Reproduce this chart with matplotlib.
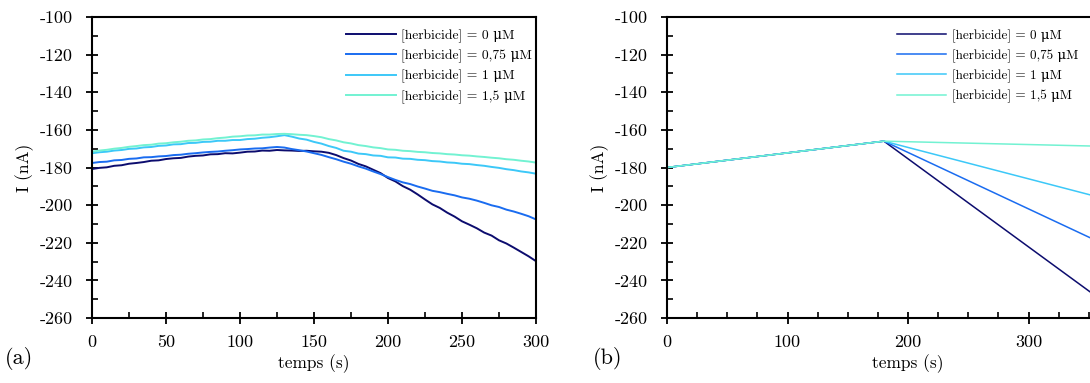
import matplotlib
matplotlib.use('Agg')
import matplotlib.pyplot as plt
from matplotlib.ticker import MultipleLocator, FixedLocator

plt.rcParams['font.family'] = ['cmr10', 'DejaVu Serif']
plt.rcParams['axes.unicode_minus'] = False
plt.rcParams['axes.formatter.use_mathtext'] = False

labels = ['[herbicide] = 0 \u03bcM', '[herbicide] = 0,75 \u03bcM',
          '[herbicide] = 1 \u03bcM', '[herbicide] = 1,5 \u03bcM']
colors = ['#0c0c6e', '#1a6cf0', '#3cc8f8', '#72f2d2']

# (a) mesures, un point toutes les 5 s
t_a = list(range(0, 301, 5))
i_0 = [-180.8, -180.2, -179.9, -179.1, -178.8, -178.0, -177.6, -177.1, -176.4, -176.2,
       -175.5, -175.1, -174.9, -174.2, -173.8, -173.6, -173.0, -172.9, -172.4, -172.5,
       -172.1, -171.6, -171.5, -171.0, -171.1, -170.7, -170.9, -171.0, -171.2, -171.1,
       -171.4, -171.6, -172.2, -173.4, -175.0, -176.3, -178.1, -179.4, -181.2, -183.0,
       -185.6, -187.4, -189.9, -191.8, -194.3, -197.0, -199.6, -201.5, -204.0, -206.1,
       -208.6, -210.4, -212.3, -214.6, -216.2, -218.7, -220.4, -222.6, -224.9, -227.2,
       -229.8]
i_075 = [-177.6, -177.1, -176.9, -176.2, -176.0, -175.4, -175.2, -174.6, -174.5, -174.1,
         -173.9, -173.4, -173.2, -172.7, -172.4, -172.0, -171.7, -171.5, -171.1, -170.8,
         -170.4, -170.2, -169.9, -169.8, -169.4, -169.1, -169.4, -170.2, -170.8, -171.5,
         -172.4, -173.3, -174.5, -175.6, -176.9, -178.0, -179.4, -180.6, -182.1, -183.5,
         -185.1, -186.6, -187.9, -188.8, -190.1, -191.2, -192.4, -193.1, -194.0, -194.8,
         -195.9, -196.6, -197.6, -198.8, -200.1, -201.0, -202.4, -203.4, -204.6, -205.9,
         -207.6]
i_1 = [-172.4, -171.9, -171.6, -171.0, -170.7, -170.1, -169.9, -169.3, -169.1, -168.5,
       -168.3, -167.7, -167.6, -167.0, -166.9, -166.4, -166.3, -165.8, -165.8, -165.4,
       -165.4, -164.9, -164.7, -164.2, -163.9, -163.4, -162.8, -163.6, -164.6, -165.2,
       -166.4, -167.3, -168.6, -169.6, -171.1, -171.6, -172.6, -172.9, -173.6, -173.8,
       -174.6, -174.7, -175.3, -175.4, -175.9, -176.1, -176.6, -176.8, -177.3, -177.5,
       -178.0, -178.2, -178.7, -179.1, -179.7, -180.2, -180.9, -181.4, -182.1, -182.6,
       -183.3]
i_15 = [-171.6, -171.0, -170.6, -170.0, -169.6, -169.0, -168.6, -168.1, -167.9, -167.3,
        -167.1, -166.6, -166.3, -165.8, -165.6, -165.1, -164.9, -164.4, -164.1, -163.6,
        -163.4, -163.0, -162.9, -162.5, -162.5, -162.2, -162.1, -162.3, -162.6, -162.8,
        -163.3, -163.9, -164.9, -165.6, -166.6, -167.2, -168.1, -168.6, -169.3, -169.7,
        -170.4, -170.6, -171.1, -171.3, -171.7, -171.9, -172.3, -172.5, -172.9, -173.1,
        -173.5, -173.7, -174.1, -174.4, -174.8, -175.1, -175.6, -175.9, -176.4, -176.8,
        -177.4]

# (b) modele
t_b = [0, 180, 400]
m_0 = [-180, -166, -269]
m_075 = [-180, -166, -232]
m_1 = [-180, -166, -202.7]
m_15 = [-180, -166, -169.3]

W, H = 1090, 383
fig = plt.figure(figsize=(W / 100, H / 100), dpi=100)
ax1 = fig.add_axes([92 / W, 1 - 318 / H, 444 / W, 301 / H])
ax2 = fig.add_axes([667 / W, 1 - 318 / H, 482 / W, 301 / H])


def style(ax, xticks, xmax):
    ax.set_ylim(-260, -100)
    ax.set_xlim(0, xmax)
    ax.xaxis.set_major_locator(FixedLocator(xticks))
    ax.xaxis.set_minor_locator(MultipleLocator(25))
    ax.yaxis.set_major_locator(MultipleLocator(20))
    ax.yaxis.set_minor_locator(MultipleLocator(10))
    ax.tick_params(which='major', direction='inout', length=8, width=1.3,
                   labelsize=13)
    ax.tick_params(which='minor', direction='in', length=4, width=1.2)
    ax.tick_params(axis='x', which='major', pad=8)
    ax.tick_params(axis='y', which='major', pad=10)
    for s in ax.spines.values():
        s.set_linewidth(1.5)
    ax.set_xlabel('temps (s)', fontsize=12.5, labelpad=3)
    ax.set_ylabel('I (nA)', fontsize=12.5, labelpad=4)


series_a = [i_0, i_075, i_1, i_15]
for y, c, lab in zip(series_a, colors, labels):
    ax1.plot(t_a, y, color=c, lw=1.4, label=lab)
style(ax1, [0, 50, 100, 150, 200, 250, 300], 300)
ax1.legend(loc='upper left', bbox_to_anchor=(346 / W, 1 - 29 / H),
           bbox_transform=fig.transFigure, frameon=False, fontsize=9.8,
           handlelength=3.7, handletextpad=0.35, borderpad=0, borderaxespad=0,
           labelspacing=0.5)

series_b = [m_0, m_075, m_1, m_15]
for y, c, lab in zip(series_b, colors, labels):
    ax2.plot(t_b, y, color=c, lw=1.1, label=lab)
style(ax2, [0, 100, 200, 300], 400)
ax2.legend(loc='upper left', bbox_to_anchor=(897 / W, 1 - 29 / H),
           bbox_transform=fig.transFigure, frameon=False, fontsize=9.5,
           handlelength=3.7, handletextpad=0.45, borderpad=0, borderaxespad=0,
           labelspacing=0.5)

fig.text(5 / W, 1 - 358 / H, '(a)', fontsize=16, va='center', ha='left')
fig.text(593 / W, 1 - 358 / H, '(b)', fontsize=16, va='center', ha='left')

fig.savefig('out.png', dpi=100)
